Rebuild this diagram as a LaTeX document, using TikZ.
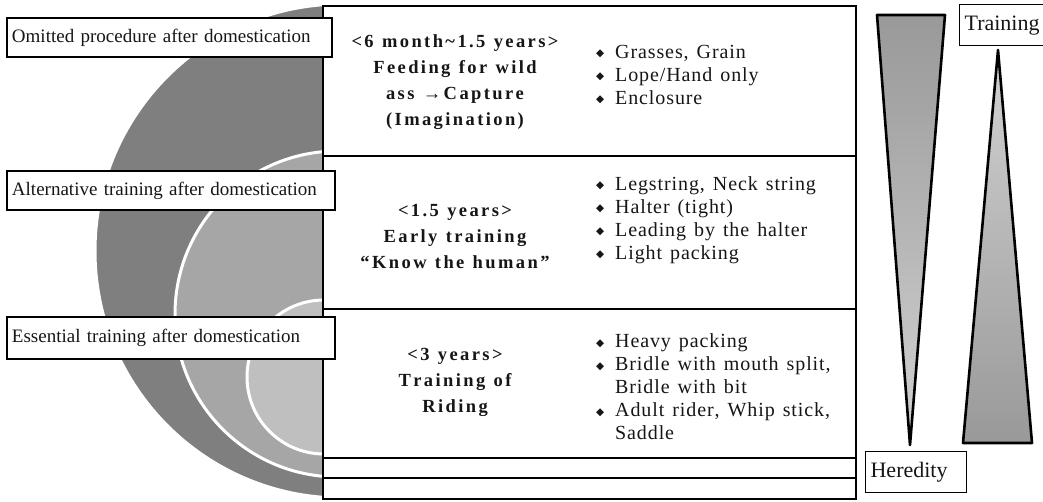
\documentclass[tikz,border=0pt]{standalone}
\usepackage{fontspec}
\setmainfont{Liberation Serif}
\newfontfamily\symfont{DejaVu Sans}
% letter spacing through XeTeX inter-character tokens (active only where switched on)
\makeatletter
\count@=33
\loop
  \XeTeXcharclass\count@=7
  \advance\count@ by 1
  \ifnum\count@<127 \repeat
\makeatother
\XeTeXcharclass"2192=7
\XeTeXcharclass"201C=7
\XeTeXcharclass"201D=7
\def\lsfac{0}
\XeTeXinterchartoks 7 7 = {\kern\lsfac em\relax}
\newcommand{\tracking}[2]{\def\lsfac{#1}\spaceskip=#2em\relax\XeTeXinterchartokenstate=1 }
\definecolor{ringA}{HTML}{7F7F7F}
\definecolor{ringB}{HTML}{A6A6A6}
\definecolor{ringC}{HTML}{BFBFBF}
\definecolor{ink}{HTML}{161616}
\definecolor{triDark}{HTML}{999999}
\definecolor{triLight}{HTML}{D2D2D2}
\newcommand{\bul}{\makebox[19pt][l]{\raisebox{1.8pt}{\symfont\fontsize{10.5}{10}\selectfont ◆}}}
\newcommand{\ind}{\hspace*{19pt}}
\begin{document}
\begin{tikzpicture}[x=1pt,y=-1pt,
  ring/.style={draw=white, line width=3pt},
  rowbox/.style={draw=black, line width=2.8pt, fill=white, inner sep=0pt},
  lbl/.style={draw=black, line width=1.2pt, fill=white, inner xsep=5pt, inner ysep=0pt, align=left, text=ink, font={\fontsize{19}{22}\selectfont}},
  tag/.style={draw=black, line width=1.2pt, fill=white, inner xsep=5pt, inner ysep=0pt, align=left, text=ink, font={\fontsize{22}{24}\selectfont}},
  stage/.style={align=center, text=ink, inner sep=0pt, font={\bfseries\fontsize{18.5}{26}\selectfont\tracking{0.13}{0.45}}},
  items/.style={align=left, text=ink, inner sep=0pt, anchor=west, font={\fontsize{20}{23}\selectfont\tracking{0.045}{0.4}}},
  tri/.style={draw=black, line width=2.6pt, line join=round}
]
\useasboundingbox (0,0) rectangle (1043,501);
\fill[white] (0,0) rectangle (1043,501);

% concentric rings
\fill[ringA] (342,251) circle[radius=247pt];
\draw[ring] (342,251) circle[radius=247pt];
\fill[ringB] (338,314) circle[radius=163pt];
\draw[ring] (338,314) circle[radius=163pt];
\fill[ringC] (324,377) circle[radius=77pt];
\draw[ring] (324,377) circle[radius=77pt];

% row boxes
\node[rowbox, minimum width=533pt, minimum height=150pt] (R1) at (589.5,81) {};
\node[rowbox, minimum width=533pt, minimum height=153pt] (R2) at (589.5,232.5) {};
\node[rowbox, minimum width=533pt, minimum height=149pt] (R3) at (589.5,383.5) {};
\node[rowbox, minimum width=533pt, minimum height=20pt] (R4) at (589.5,468) {};
\node[rowbox, minimum width=533pt, minimum height=21pt] (R5) at (589.5,488.5) {};

% left labels
\node[lbl, text width=315pt, minimum height=39pt] (L1) at (169.5,37.5) {Omitted procedure after domestication};
\node[lbl, text width=318pt, minimum height=39pt] (L2) at (171,190.5) {Alternative training after domestication};
\node[lbl, text width=318pt, minimum height=42pt] (L3) at (171,338) {Essential training after domestication};

% stage texts
\node[stage] (S1) at (455,82) {<6 month\textasciitilde1.5 years>\\Feeding for wild\\ass →Capture\\(Imagination)};
\node[stage] (S2) at (455,237) {<1.5 years>\\Early training\\“Know the human”};
\node[stage] (S3) at (455,382) {<3 years>\\Training of\\Riding};

% item lists
\node[items] (I1) at (596,75) {\bul Grasses, Grain\\\bul Lope/Hand only\\\bul Enclosure};
\node[items] (I2) at (596,220) {\bul Legstring, Neck string\\\bul Halter (tight)\\\bul Leading by the halter\\\bul Light packing};
\node[items] (I3) at (596,387) {\bul Heavy packing\\\bul Bridle with mouth split,\\\ind Bridle with bit\\\bul Adult rider, Whip stick,\\\ind Saddle};

% triangles
\shade[top color=triDark, bottom color=triLight] (877,15) -- (945,15) -- (910,445) -- cycle;
\draw[tri] (877,15) -- (945,15) -- (910,445) -- cycle;
\shade[top color=triLight, bottom color=triDark] (998,50) -- (1032,443) -- (963,443) -- cycle;
\draw[tri] (998,50) -- (1032,443) -- (963,443) -- cycle;

% tags
\node[tag, anchor=north west, text width=82pt, minimum height=41pt] (TR) at (959,4) {Training};
\node[tag, anchor=north west, text width=91pt, minimum height=41pt] (HE) at (865,451) {Heredity};
\end{tikzpicture}
\end{document}
